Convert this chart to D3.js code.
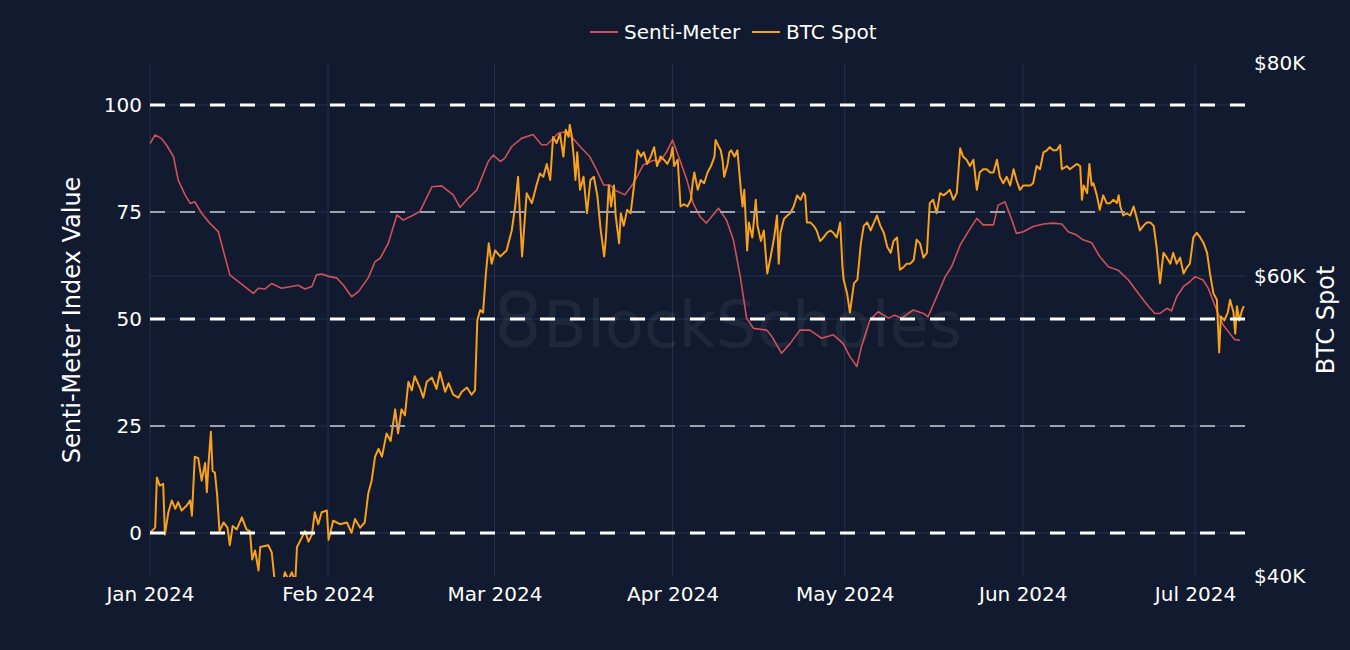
<!DOCTYPE html>
<html>
<head>
<meta charset="utf-8">
<script src="https://cdn.jsdelivr.net/npm/d3@7"></script>
<style>
  html, body { margin: 0; padding: 0; background: #111a2e; }
  svg { display: block; }
  text { font-family: "DejaVu Sans", Verdana, sans-serif; fill: #ffffff; }
</style>
</head>
<body>
<div id="chart"></div>
<script>
// Senti-Meter: [days since 1 Jan 2024, index value]
const sentiMeter = [
  [0,91.0],[0.9,93.0],[2.0,92.2],[2.9,90.6],[4.1,87.9],[4.9,82.5],[6.1,79.0],[7.0,77.0],[7.8,77.4],[9.0,74.7],
  [10.4,72.4],[11.9,70.4],[13.9,60.3],[18.0,56.0],[18.9,57.2],[20.0,57.0],[21.2,58.3],[22.9,57.2],[25.8,57.9],
  [27.0,57.0],[28.2,57.6],[29.0,60.3],[29.9,60.5],[31.3,59.9],[32.5,59.6],[33.7,57.9],[35.1,55.2],[36.3,56.4],
  [38.0,59.6],[39.2,63.4],[40.1,64.2],[41.5,67.7],[43.0,74.3],[44.1,73.1],[45.9,74.3],[47.0,75.1],[49.1,80.9],
  [50.8,81.1],[52.8,79.0],[54.0,76.1],[55.4,78.2],[56.9,80.1],[58.9,86.8],[59.8,88.3],[61.0,86.8],[61.8,87.6],
  [63.0,90.3],[64.7,92.2],[66.7,93.1],[68.2,90.7],[69.1,90.7],[71.1,93.4],[72.6,93.8],[74.9,90.3],[76.6,87.9],
  [77.8,84.8],[79.0,81.3],[80.1,81.3],[81.0,80.1],[82.7,79.0],[84.2,81.7],[85.9,86.0],[87.7,87.1],[88.8,86.8],
  [90.0,89.1],[91.0,91.8],[92.3,87.1],[93.5,82.5],[94.6,77.0],[95.8,73.9],[96.9,72.4],[99.0,75.9],[100.4,73.1],
  [101.6,68.5],[102.8,59.9],[103.9,50.2],[105.1,47.8],[107.4,47.4],[108.3,45.9],[110.0,42.0],[111.5,44.3],
  [113.2,47.4],[114.9,47.4],[117.0,45.5],[119.0,46.3],[120.7,44.3],[121.9,41.2],[123.1,38.9],[123.9,43.5],
  [125.4,49.8],[126.8,51.7],[128.6,50.2],[129.7,50.9],[130.9,50.2],[132.9,52.1],[134.7,51.3],[135.5,50.5],
  [137.0,55.2],[138.5,59.9],[139.6,62.2],[141.1,67.3],[142.5,70.4],[144.0,73.5],[145.1,72.0],[146.9,72.0],
  [147.7,76.6],[148.9,77.4],[150.1,73.1],[150.9,70.0],[152.1,70.4],[153.8,71.6],[155.6,72.2],[157.3,72.4],
  [158.8,72.2],[159.9,70.4],[161.4,69.6],[162.5,68.5],[164.0,67.8],[165.4,64.6],[166.9,62.2],[168.6,61.4],
  [170.4,59.1],[172.1,56.0],[173.9,52.9],[175.0,51.3],[175.9,51.3],[177.1,52.5],[177.9,51.9],[178.8,55.2],
  [180.0,57.6],[181.1,58.7],[182.0,59.9],[183.4,59.1],[184.3,57.2],[185.1,54.4],[186.0,51.3],[186.9,48.6],
  [188.0,46.7],[188.9,45.2],[189.8,45.0]
];

// BTC spot: [days since 1 Jan 2024, price in $K]
const btcSpot = [
  [0,42.4],[0.9,42.7],[1.2,45.7],[1.7,45.2],[2.3,45.3],[2.6,42.3],[3.2,43.6],[3.8,44.3],[4.4,43.8],[4.9,44.2],
  [5.5,43.7],[6.4,44.0],[7.0,44.3],[7.3,43.4],[7.8,47.0],[8.4,46.9],[9.0,45.5],[9.6,46.6],[9.9,44.8],[10.2,46.6],
  [10.6,48.6],[10.9,46.1],[11.3,46.0],[11.7,44.6],[12.1,42.5],[12.8,43.0],[13.5,42.7],[13.9,41.7],[14.4,42.8],
  [15.1,42.6],[16.0,43.3],[16.8,42.6],[17.4,42.5],[17.8,40.9],[18.3,41.4],[18.9,40.3],[19.2,41.6],[20.6,41.7],
  [21.2,41.3],[21.8,39.5],[22.6,39.0],[23.5,40.2],[24.1,39.8],[24.7,40.2],[25.3,39.7],[25.6,41.6],[26.4,42.1],
  [27.0,42.5],[27.6,41.9],[28.2,42.3],[28.7,43.6],[29.3,42.9],[29.9,43.6],[30.8,43.7],[31.1,42.0],[31.9,43.1],
  [33.1,42.9],[34.3,43.0],[35.1,42.4],[35.7,43.2],[36.6,42.7],[37.4,43.0],[38.0,44.7],[38.6,45.5],[39.2,47.0],
  [39.8,47.5],[40.4,47.0],[41.2,48.5],[41.9,48.0],[42.7,50.1],[43.2,48.5],[43.8,50.1],[44.4,49.7],[45.0,52.0],
  [45.6,51.4],[46.1,52.4],[47.0,51.6],[47.6,50.9],[48.2,52.0],[49.1,52.3],[49.9,51.5],[50.5,52.7],[51.4,51.3],
  [52.0,51.9],[52.8,51.1],[53.7,50.9],[54.3,51.3],[55.2,51.6],[56.0,51.1],[56.6,51.4],[57.0,56.5],[57.5,57.3],
  [58.0,57.1],[58.5,60.2],[59.0,62.7],[59.5,61.0],[60.1,62.1],[61.0,61.6],[62.1,62.1],[63.0,63.8],[63.6,65.9],
  [64.1,68.6],[64.8,61.6],[65.6,67.1],[66.5,66.2],[67.3,67.8],[67.9,68.9],[68.5,68.6],[69.1,69.8],[69.7,68.3],
  [70.2,72.4],[70.8,71.8],[71.4,72.7],[72.0,70.5],[72.4,73.1],[72.9,72.4],[73.1,73.6],[73.4,72.7],[73.8,70.5],
  [74.1,68.3],[74.4,70.9],[74.9,67.4],[75.5,68.6],[76.1,65.3],[76.7,68.3],[77.3,68.6],[77.9,66.9],[78.5,63.8],
  [79.1,61.6],[79.4,63.2],[79.9,67.8],[80.3,65.9],[80.8,67.8],[81.1,65.1],[81.7,62.7],[82.0,65.3],[82.5,64.2],
  [83.1,65.6],[83.7,65.3],[84.3,67.8],[84.9,71.1],[85.5,70.5],[86.0,70.9],[86.6,69.8],[87.2,70.5],[87.8,71.4],
  [88.3,69.6],[88.9,70.5],[89.5,70.2],[90.1,69.8],[90.7,70.5],[91.0,71.4],[91.3,69.6],[91.9,70.2],[92.4,65.9],
  [93.0,66.1],[93.6,65.9],[94.2,66.5],[94.5,68.0],[94.8,69.0],[95.4,67.4],[95.9,68.3],[96.5,68.0],[97.1,69.0],
  [97.7,69.6],[98.3,70.5],[98.5,72.1],[99.1,71.4],[99.4,71.1],[99.7,70.2],[100.0,68.6],[100.6,69.8],[100.9,70.9],
  [101.2,71.1],[101.8,70.5],[102.3,71.1],[102.9,67.4],[103.2,65.9],[103.5,67.4],[104.0,62.1],[104.3,64.5],
  [104.9,63.2],[105.5,66.5],[105.8,64.2],[106.4,62.9],[106.9,63.8],[107.5,60.2],[108.1,61.6],[108.7,63.2],
  [109.2,65.1],[109.5,61.0],[109.8,63.6],[110.4,64.8],[111.0,65.1],[111.5,65.3],[112.1,65.9],[112.7,66.9],
  [113.3,66.5],[113.8,67.1],[114.1,66.9],[114.4,64.5],[115.0,64.5],[115.6,64.2],[116.1,63.8],[116.7,62.9],
  [117.3,63.2],[117.9,63.6],[118.5,63.8],[119.0,63.6],[119.6,63.2],[120.2,64.5],[120.6,60.7],[120.8,59.7],
  [121.4,58.6],[121.9,57.1],[122.2,58.1],[122.6,59.4],[123.2,59.7],[123.8,62.7],[124.3,64.2],[124.9,64.5],
  [125.5,63.8],[126.1,64.5],[126.6,65.1],[127.2,64.2],[127.8,63.6],[128.4,62.4],[129.0,61.9],[129.5,62.9],
  [130.1,63.2],[130.6,60.5],[131.2,60.7],[131.8,61.0],[132.4,61.0],[133.0,61.3],[133.5,63.0],[134.1,62.7],
  [134.7,61.5],[135.3,61.9],[135.8,66.2],[136.4,66.5],[137.0,65.3],[137.6,67.1],[138.2,66.9],[138.7,67.1],
  [139.3,67.4],[139.9,66.5],[140.5,67.1],[141.1,71.3],[141.6,70.5],[142.2,70.2],[142.8,69.6],[143.4,70.2],
  [144.0,67.4],[144.5,69.0],[145.1,69.3],[145.7,69.3],[146.3,69.0],[146.9,69.0],[147.5,70.2],[148.0,68.6],
  [148.6,68.0],[149.2,68.6],[149.8,67.8],[150.4,69.3],[150.9,68.3],[151.5,67.4],[152.1,67.8],[152.7,67.8],
  [153.3,67.8],[153.8,68.0],[154.4,69.6],[155.0,69.3],[155.6,70.9],[156.2,71.1],[156.7,71.4],[157.3,71.1],
  [157.9,71.1],[158.5,71.6],[158.8,69.3],[159.7,69.6],[160.2,69.3],[161.4,69.8],[162.0,69.6],[162.3,66.5],
  [162.6,67.8],[163.2,67.1],[163.6,69.8],[164.0,67.8],[164.3,68.0],[164.9,66.9],[165.4,65.6],[166.0,66.9],
  [166.6,66.2],[167.2,66.2],[167.8,66.5],[168.4,66.2],[168.7,66.9],[169.0,65.9],[169.5,65.1],[170.1,65.3],
  [170.7,65.1],[171.3,65.9],[171.9,64.8],[172.4,63.8],[173.0,64.2],[173.6,64.5],[174.2,64.5],[174.8,64.2],
  [175.3,62.4],[175.9,59.4],[176.5,61.9],[177.1,61.5],[177.7,61.0],[178.2,61.9],[178.8,61.0],[179.4,61.5],
  [180.0,60.2],[180.6,60.7],[181.1,61.0],[181.7,63.2],[182.3,63.6],[182.9,63.2],[183.5,62.7],[184.1,61.9],
  [184.6,60.2],[185.2,58.6],[185.8,58.1],[186.2,54.1],[186.5,56.8],[187.1,56.5],[187.7,57.1],[188.1,58.1],
  [188.7,57.1],[189.0,55.5],[189.3,57.6],[189.7,56.5],[190.2,57.3],[190.5,57.6]
];

const leftTicks = [0, 25, 50, 75, 100];
const rightTicks = [40, 60, 80];
const strongLevels = [0, 50, 100];
const softLevels = [25, 75];

const width = 1350, height = 650;
const plot = {left: 150, right: 1245, top: 63, bottom: 577};
const bg = "#111a2e";
const gridColor = "#263150";
const sentiColor = "#d0515a";
const btcColor = "#f8a11c";
const fontFamily = "DejaVu Sans, Verdana, sans-serif";

const start = Date.UTC(2024, 0, 1);
const toDate = d => new Date(start + d * 864e5);

const x = d3.scaleUtc()
  .domain([toDate(0), toDate(190.7)])
  .range([plot.left, plot.right]);

const yLeft = d3.scaleLinear()
  .domain([-10.28, 109.81])
  .range([plot.bottom, plot.top]);

const yRight = d3.scaleLog()
  .domain([40, 80])
  .range([576, plot.top]);

const svg = d3.select("#chart").append("svg")
  .attr("width", width)
  .attr("height", height);

svg.append("rect").attr("width", width).attr("height", height).attr("fill", bg);

svg.append("clipPath").attr("id", "plotClip")
  .append("rect")
  .attr("x", plot.left).attr("y", plot.top)
  .attr("width", plot.right - plot.left)
  .attr("height", plot.bottom - plot.top);

// grid
const monthTicks = d3.utcMonth.range(toDate(0), toDate(191));
const grid = svg.append("g").attr("stroke", gridColor).attr("stroke-width", 1);
grid.selectAll(".vg").data(monthTicks).join("line")
  .attr("x1", d => x(d)).attr("x2", d => x(d))
  .attr("y1", plot.top).attr("y2", plot.bottom);
grid.selectAll(".hg").data(leftTicks).join("line")
  .attr("x1", plot.left).attr("x2", plot.right)
  .attr("y1", d => yLeft(d)).attr("y2", d => yLeft(d));
grid.append("line")
  .attr("x1", plot.left).attr("x2", plot.right)
  .attr("y1", yRight(60)).attr("y2", yRight(60));

// watermark
const wm = svg.append("g").attr("opacity", 0.06);
wm.append("rect").attr("x", 503).attr("y", 294).attr("width", 30).attr("height", 24).attr("rx", 11)
  .attr("fill", "none").attr("stroke", "#fff").attr("stroke-width", 7);
wm.append("rect").attr("x", 503).attr("y", 318).attr("width", 30).attr("height", 26).attr("rx", 12)
  .attr("fill", "none").attr("stroke", "#fff").attr("stroke-width", 7);
wm.append("text").attr("x", 543).attr("y", 347)
  .attr("font-size", 64).text("BlockScholes");

// lines
const lines = svg.append("g").attr("clip-path", "url(#plotClip)");

lines.append("path")
  .datum(sentiMeter)
  .attr("fill", "none")
  .attr("stroke", sentiColor)
  .attr("stroke-width", 1.6)
  .attr("stroke-linejoin", "round")
  .attr("d", d3.line().x(d => x(toDate(d[0]))).y(d => yLeft(d[1])));

lines.append("path")
  .datum(btcSpot)
  .attr("fill", "none")
  .attr("stroke", btcColor)
  .attr("stroke-width", 2)
  .attr("stroke-linejoin", "round")
  .attr("d", d3.line().x(d => x(toDate(d[0]))).y(d => yRight(d[1])));

// dashed reference lines
svg.append("g").selectAll("line").data(softLevels).join("line")
  .attr("x1", plot.left).attr("x2", plot.right)
  .attr("y1", d => yLeft(d)).attr("y2", d => yLeft(d))
  .attr("stroke", "#9ea3ad").attr("stroke-width", 2)
  .attr("stroke-dasharray", "15,15");
svg.append("g").selectAll("line").data(strongLevels).join("line")
  .attr("x1", plot.left).attr("x2", plot.right)
  .attr("y1", d => yLeft(d)).attr("y2", d => yLeft(d))
  .attr("stroke", "#ffffff").attr("stroke-width", 3)
  .attr("stroke-dasharray", "15,15");

// axes
const xAxis = svg.append("g")
  .attr("transform", `translate(0,${plot.bottom})`)
  .call(d3.axisBottom(x).tickValues(monthTicks).tickFormat(d3.utcFormat("%b %Y")).tickSize(0).tickPadding(10));
xAxis.select(".domain").remove();
xAxis.selectAll("text").attr("font-size", 20).attr("fill", "#fff").attr("font-family", fontFamily);

const yAxisL = svg.append("g")
  .attr("transform", `translate(${plot.left},0)`)
  .call(d3.axisLeft(yLeft).tickValues(leftTicks).tickSize(0).tickPadding(8));
yAxisL.select(".domain").remove();
yAxisL.selectAll("text").attr("font-size", 20).attr("fill", "#fff").attr("font-family", fontFamily);

const yAxisR = svg.append("g")
  .attr("transform", `translate(1254,0)`)
  .call(d3.axisRight(yRight).tickValues(rightTicks).tickFormat(d => `$${d}K`).tickSize(0).tickPadding(0));
yAxisR.select(".domain").remove();
yAxisR.selectAll("text").attr("font-size", 20).attr("fill", "#fff").attr("font-family", fontFamily);

// axis titles
svg.append("text")
  .attr("transform", `translate(80,320) rotate(-90)`)
  .attr("text-anchor", "middle")
  .attr("font-size", 24)
  .text("Senti-Meter Index Value");

svg.append("text")
  .attr("transform", `translate(1334,320) rotate(-90)`)
  .attr("text-anchor", "middle")
  .attr("font-size", 24)
  .text("BTC Spot");

// legend
const legendItems = [
  {name: "Senti-Meter", color: sentiColor, x: 590},
  {name: "BTC Spot", color: btcColor, x: 752}
];
const legend = svg.append("g");
legendItems.forEach(item => {
  legend.append("line")
    .attr("x1", item.x).attr("x2", item.x + 28)
    .attr("y1", 32).attr("y2", 32)
    .attr("stroke", item.color).attr("stroke-width", 2);
  legend.append("text")
    .attr("x", item.x + 34).attr("y", 32)
    .attr("dy", "0.35em")
    .attr("font-size", 20)
    .text(item.name);
});
</script>
</body>
</html>
